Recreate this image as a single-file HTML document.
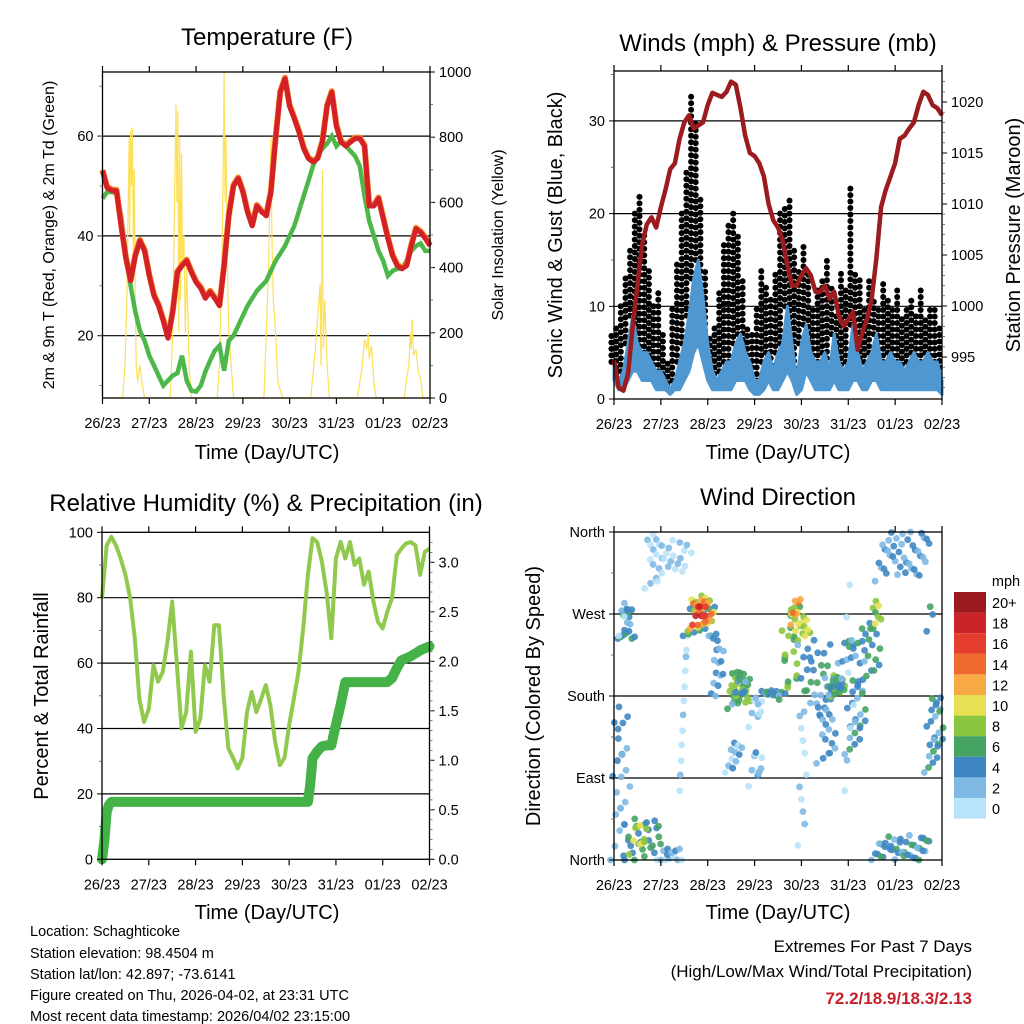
<!DOCTYPE html>
<html><head><meta charset="utf-8"><style>
html,body{margin:0;padding:0;background:#fff;}
svg{display:block;font-family:"Liberation Sans",Arial,sans-serif;}
</style></head><body>
<svg id="s" width="1024" height="1024" viewBox="0 0 1024 1024">
<g id="g"></g>
<text x="267" y="45" font-size="24" text-anchor="middle">Temperature (F)</text>
<text x="778" y="51" font-size="24" text-anchor="middle">Winds (mph) &amp; Pressure (mb)</text>
<text x="266" y="511" font-size="24" text-anchor="middle">Relative Humidity (%) &amp; Precipitation (in)</text>
<text x="778" y="505" font-size="24" text-anchor="middle">Wind Direction</text>
<text transform="translate(54,235) rotate(-90)" font-size="16" text-anchor="middle">2m &amp; 9m T (Red, Orange) &amp; 2m Td (Green)</text>
<text transform="translate(503,235) rotate(-90)" font-size="16" text-anchor="middle">Solar Insolation (Yellow)</text>
<text transform="translate(562,235) rotate(-90)" font-size="20" text-anchor="middle">Sonic Wind &amp; Gust (Blue, Black)</text>
<text transform="translate(1020,235) rotate(-90)" font-size="20" text-anchor="middle">Station Pressure (Maroon)</text>
<text transform="translate(48,696) rotate(-90)" font-size="20" text-anchor="middle">Percent &amp; Total Rainfall</text>
<text transform="translate(540,696) rotate(-90)" font-size="20" text-anchor="middle">Direction (Colored By Speed)</text>
<text x="267" y="459" font-size="20" text-anchor="middle">Time (Day/UTC)</text>
<text x="778" y="459" font-size="20" text-anchor="middle">Time (Day/UTC)</text>
<text x="267" y="919" font-size="20" text-anchor="middle">Time (Day/UTC)</text>
<text x="778" y="919" font-size="20" text-anchor="middle">Time (Day/UTC)</text>
<g font-size="14.5">
<text x="30" y="936">Location: Schaghticoke</text>
<text x="30" y="958">Station elevation: 98.4504 m</text>
<text x="30" y="979">Station lat/lon: 42.897; -73.6141</text>
<text x="30" y="1000">Figure created on Thu, 2026-04-02, at 23:31 UTC</text>
<text x="30" y="1021">Most recent data timestamp: 2026/04/02 23:15:00</text>
</g>
<text x="972" y="952" font-size="17" text-anchor="end">Extremes For Past 7 Days</text>
<text x="972" y="977" font-size="17" text-anchor="end">(High/Low/Max Wind/Total Precipitation)</text>
<text x="972" y="1004" font-size="17" font-weight="bold" fill="#c8202a" text-anchor="end">72.2/18.9/18.3/2.13</text>
</svg>
<script>
const dayLabels=["26/23","27/23","28/23","29/23","30/23","31/23","01/23","02/23"];
const tempT=[53,49.6,49.1,49,42,35.5,31,36,39,37,32,28,26,23,19.5,24.7,32.7,34,35,32.7,30.7,29.5,27.5,28.8,27.5,26,34,44,50,51.5,48.8,44.8,42,46,44.8,44,48.8,59.5,68.8,71.5,66,63.5,60.8,57.5,55.5,54.8,55.5,58.8,66,68.8,62,58.8,58,58.8,59.5,59.5,58,46,46,47.5,43.5,39.5,36,34,33.4,34,38,41.4,40.7,39.5,38];
const dewT=[47.5,48.8,48.8,48.5,44,36,30,24.8,21,19,16,14,12,10,11,12,12.5,16,11,9,8.8,10,12.8,15,17,18,13,19,20,22,24,26,27.5,29,30,31,33,35,36.5,38,40,42,45,48,51,54,56,57.5,58.5,60,58,59,58,57,56,54,48,43,40,37,35,32,33,33.4,33.5,35,37,38,38.5,37,37];
const solarTime=[0,.43,.48,.52,.55,.57,.58,.6,.62,.64,.66,.68,.7,.72,.75,.8,.85,.9,1.45,1.5,1.55,1.57,1.59,1.61,1.63,1.65,1.67,1.69,1.71,1.74,1.77,1.8,1.85,1.9,2.45,2.5,2.55,2.58,2.6,2.62,2.64,2.67,2.7,2.75,2.8,3.45,3.5,3.55,3.6,3.62,3.65,3.7,3.75,3.85,4.45,4.55,4.6,4.65,4.67,4.7,4.72,4.75,4.8,4.85,5.45,5.5,5.55,5.6,5.65,5.68,5.7,5.75,5.8,5.85,6.45,6.5,6.55,6.58,6.6,6.62,6.65,6.7,6.75,6.8,6.85,7];
const solarV=[0,0,100,300,600,800,500,820,650,830,400,700,300,100,50,100,40,0,0,200,700,900,600,880,200,800,300,750,400,500,200,400,100,0,0,100,400,700,1000,600,800,400,200,100,0,0,200,400,800,500,300,200,50,0,0,150,250,350,100,700,150,300,100,0,0,50,100,180,150,200,120,160,50,0,0,60,100,200,150,240,130,150,80,60,0,0];
const windV=[4,2,3,6,9,6,5,5,4,3,3,2,1,2,4,6,9,13,15,11,6,3,2,3,4,4,6,7,5,4,2,2,4,5,3,5,6,10,6,2,6,8,5,4,4,5,3,7,4,3,4,8,5,3,4,5,7,4,4,5,4,4,3,4,5,4,4,5,4,4,2];
const lullV=[2,1,1,2,3,3,2,2,2,1,1,1,0.5,1,1,2,3,5,6,4,2,1,1,1,1,1,2,2,2,1,0.5,0.5,1,2,1,1,2,3,2,0.5,1,3,2,1,1,1,1,2,1,1,1,2,2,1,1,2,2,1,1,1,1,1,1,1,1,1,1,1,1,1,0.5];
const gustV=[7,8,10,13,16,20,22,18,14,10,12,7,4,10,15,20,25,33,30,22,14,7,8,12,17,19,20,18,13,8,7,10,14,12,11,14,20,21,22,16,14,17,14,10,12,13,15,12,9,14,12,23,14,13,10,13,11,10,13,11,10,12,9,10,11,9,12,9,10,10,8];
const presV=[994.7,992,991.7,993.4,998,1002,1006,1008,1008.7,1007.7,1009.7,1011.4,1013.4,1014,1016.4,1018,1018.7,1017.4,1017.7,1018,1019.7,1020.9,1020.7,1020.5,1021,1022,1021.7,1019.4,1016.7,1015,1014.7,1014,1012.7,1010,1008.4,1007.7,1006.4,1004,1002,1002,1003,1003.7,1003,1001.4,1001.4,1002,1000.7,1001.4,999,998,998.7,999.4,995.7,997.4,998.7,1000.7,1004.7,1009.7,1011.4,1012.7,1014,1016.4,1016.7,1017.4,1018,1019.7,1021,1020.7,1019.7,1019.4,1018.7];
const rhV=[80,96,98.6,96,92,87,80,67.6,49,42,46,59.4,54.3,57.4,66.6,78.8,59.4,40,45,63.5,39,43,59.4,54.3,71.6,71.6,50.3,34,31,27.8,31,45,51.2,45,49,53.3,47,36,28.8,31,41,49,57.4,70.6,87,98.2,97,91,81.8,67.6,92,97,92,97,90,92,84,88,78.8,72.6,70.6,75.8,80,93,95,96.6,97,96,87,94,95];
const precipTime=[0,.05,.1,.15,.2,4.4,4.45,4.5,4.6,4.7,4.8,4.9,5.0,5.1,5.2,6.1,6.2,6.3,6.4,6.5,6.6,6.7,6.8,6.9,7];
const precipV=[0,.18,.48,.55,.58,.58,.75,1.02,1.09,1.14,1.15,1.15,1.36,1.56,1.79,1.79,1.83,1.93,2.01,2.03,2.05,2.08,2.11,2.13,2.15];
// direction clusters (start/end day, start/end degrees, speed mph, point count)
const dirT0=[0.0,0.16,0.18,0.73,1.0,0.3,0.4,1.0,1.48,1.55,1.65,1.7,1.75,2.1,2.5,2.6,2.45,2.95,2.95,3.15,3.6,3.8,3.85,4.0,4.0,4.0,4.6,4.65,4.4,4.86,5.0,5.3,5.55,5.0,5.65,5.57,6.7,6.75];
const dirT1=[0.3,0.38,0.3,1.0,1.6,1.0,0.7,1.4,1.5,2.15,2.1,2.05,1.95,2.3,2.87,2.8,2.7,3.15,3.15,3.6,3.95,3.95,3.9,4.15,4.6,4.05,4.9,4.85,4.7,5.3,5.35,5.65,5.65,5.05,6.7,6.7,7.0,6.8];
const dirD0=[2,247,250,302,310,0,10,0,80,250,255,258,262,250,170,175,100,150,85,175,180,250,262,245,240,20,180,185,110,220,120,200,258,80,310,0,100,255];
const dirD1=[166,291,280,357,355,45,40,15,250,294,290,285,280,180,206,200,130,180,120,190,280,275,290,265,160,160,200,200,165,250,200,260,282,300,360,25,180,280];
const dirSpd=[3,5,2,1,1,5,9,2,0,5,9,13,17,3,7,4,2,1,2,4,7,9,13,9,4,1,6,4,3,4,4,5,8,0,3,4,4,5];
const dirN=[26,14,8,16,18,24,10,14,12,14,16,16,10,16,30,10,12,10,10,18,20,8,6,8,30,10,24,10,16,14,24,16,8,8,40,40,24,3];
const legendLabels=["20+","18","16","14","12","10","8","6","4","2","0"];
const legendColors=["#9b1a1e","#cc2229","#e53e2e","#f06a2f","#f7a945","#e7e052","#8cc540","#45a463","#3f87c4","#7fb9e4","#b9e3f8"];

const NS="http://www.w3.org/2000/svg";
const G=document.getElementById('g');
function el(tag,attrs,parent){const e=document.createElementNS(NS,tag);for(const k in attrs)e.setAttribute(k,attrs[k]);(parent||G).appendChild(e);return e;}
function txt(x,y,s,size,anchor,parent){const e=el('text',{x:x,y:y,'font-size':size,'text-anchor':anchor},parent);e.textContent=s;return e;}
function pts(xs,ys){return xs.map((x,i)=>x.toFixed(1)+','+ys[i].toFixed(1)).join(' ');}
const tIdx=tempT.map((_,i)=>i*0.1);

function panel(name,L,R,T,B){
  const g=el('g',{});
  
  
  return {g,L,R,T,B,x:d=>L+(R-L)*d/7};
}
function frame(p,name){
  const r=el('rect',{x:p.L,y:p.T,width:p.R-p.L,height:p.B-p.T,fill:'none',stroke:'#000','stroke-width':1.3},p.g);
  
  
  const ax=el('g',{},p.g);
  
  
  for(let d=0;d<=7;d++){
    const x=p.x(d);
    el('line',{x1:x,x2:x,y1:p.B,y2:p.B+6,stroke:'#000','stroke-width':1.2},ax);
    el('line',{x1:x,x2:x,y1:p.T,y2:p.T-6,stroke:'#000','stroke-width':1.2},ax);
    txt(x,p.B+30,dayLabels[d],14.5,'middle',ax);
  }
}
function hgrid(p,y){el('line',{x1:p.L,x2:p.R,y1:y,y2:y,stroke:'#000','stroke-width':1.2},p.g);}
function leftTicks(p,vals,fy,fmt,name,side){
  const ax=el('g',{},p.g);
  
  
  vals.forEach(v=>{const y=fy(v);
    if(side==='L'){el('line',{x1:p.L-5,x2:p.L,y1:y,y2:y,stroke:'#000'},ax);txt(p.L-9,y+5,fmt(v),14.5,'end',ax);}
    else{el('line',{x1:p.R,x2:p.R+5,y1:y,y2:y,stroke:'#000'},ax);txt(p.R+9,y+5,fmt(v),14.5,'start',ax);}
  });
}
function minor(p,ys,side){ys.forEach(y=>{if(side==='L')el('line',{x1:p.L-3,x2:p.L,y1:y,y2:y,stroke:'#555','stroke-width':.8},p.g);else el('line',{x1:p.R,x2:p.R+3,y1:y,y2:y,stroke:'#555','stroke-width':.8},p.g);});}

// ---------- Temperature ----------
const P1=panel('temperature-panel',102.5,430,72,398);
const ty=v=>335.7-(v-20)*4.99;
const sy=v=>398-v*0.326;
[20,40,60].forEach(v=>hgrid(P1,ty(v)));
{const e=el('polyline',{points:pts(solarTime.map(P1.x),solarV.map(sy)),fill:'none',stroke:'#fde05a','stroke-width':1.2},P1.g);

}
{const e=el('polyline',{points:pts(tIdx.map(P1.x),dewT.map(ty)),fill:'none',stroke:'#4db849','stroke-width':4.5},P1.g);

}
{const e=el('polyline',{points:pts(tIdx.map(P1.x),tempT.map(v=>ty(v)-1)),fill:'none',stroke:'#f58220','stroke-width':6,'stroke-linejoin':'round'},P1.g);

}
{const e=el('polyline',{points:pts(tIdx.map(P1.x),tempT.map(ty)),fill:'none',stroke:'#d42027','stroke-width':5,'stroke-linejoin':'round'},P1.g);

}
frame(P1,'temperature');
leftTicks(P1,[20,40,60],ty,v=>String(v),'temperature-y-axis','L');
leftTicks(P1,[0,200,400,600,800,1000],sy,v=>String(v),'solar-y-axis','R');
{const a=[],b=[];for(let v=10;v<=70;v+=10)a.push(ty(v));for(let v=100;v<=900;v+=100)b.push(sy(v));minor(P1,a,'L');minor(P1,b,'R');}

// ---------- Winds ----------
const P2=panel('wind-panel',614,942,71,399);
const wy=v=>399-v*9.27;
const py=v=>306-(v-1000)*10.2;
[10,20,30].forEach(v=>hgrid(P2,wy(v)));
gustV.forEach((g,i)=>{
  const x=P2.x(tIdx[i]);
  let k=0;
  for(let v=windV[i];v<=g;v+=0.7){
    const c=el('circle',{cx:(x+((k*5)%5-2)*1.3).toFixed(1),cy:wy(v).toFixed(1),r:3,fill:'#000'},P2.g);
    
    
    k++;
  }
});
{const xs=tIdx.map(P2.x);
const up=xs.map((x,i)=>x.toFixed(1)+','+wy(windV[i]).toFixed(1));
const dn=xs.map((x,i)=>x.toFixed(1)+','+wy(lullV[i]).toFixed(1)).reverse();
const e=el('polygon',{points:up.concat(dn).join(' '),fill:'#4f97d1',stroke:'#4f97d1','stroke-width':3,'stroke-linejoin':'round'},P2.g);

}
{const e=el('polyline',{points:pts(tIdx.map(P2.x),presV.map(py)),fill:'none',stroke:'#9b1b1e','stroke-width':4.5,'stroke-linejoin':'round'},P2.g);

}
frame(P2,'wind');
leftTicks(P2,[0,10,20,30],wy,v=>String(v),'wind-y-axis','L');
leftTicks(P2,[995,1000,1005,1010,1015,1020],py,v=>String(v),'pressure-y-axis','R');
{const a=[],b=[];for(let v=5;v<=35;v+=10)a.push(wy(v));for(let v=992;v<=1022;v++)if(v%5)b.push(py(v));minor(P2,a,'L');minor(P2,b,'R');}

// ---------- RH ----------
const P3=panel('humidity-panel',102,429.5,532.3,859.3);
const ry=v=>859.3-v*3.27;
const qy=v=>859.3-v*99;
[20,40,60,80].forEach(v=>hgrid(P3,ry(v)));
{const e=el('polyline',{points:pts(tIdx.map(P3.x),rhV.map(ry)),fill:'none',stroke:'#90c94e','stroke-width':4,'stroke-linejoin':'round'},P3.g);

}
{const e=el('polyline',{points:pts(precipTime.map(P3.x),precipV.map(qy)),fill:'none',stroke:'#45b248','stroke-width':10,'stroke-linejoin':'round','stroke-linecap':'round'},P3.g);

}
frame(P3,'humidity');
leftTicks(P3,[0,20,40,60,80,100],ry,v=>String(v),'humidity-y-axis','L');
leftTicks(P3,[0,.5,1,1.5,2,2.5,3],qy,v=>v.toFixed(1),'precip-y-axis','R');
{const a=[],b=[];for(let v=10;v<=90;v+=20)a.push(ry(v));for(let v=0.1;v<3.25;v+=0.1)b.push(qy(v));minor(P3,a,'L');minor(P3,b,'R');}

// ---------- Direction ----------
const P4=panel('direction-panel',614,942,532,860);
const dy=v=>860-v*328/360;
function spdColor(s){const i=Math.max(0,Math.min(10,Math.floor(s/2)));return legendColors[10-i];}
[90,180,270].forEach(v=>hgrid(P4,dy(v)));
dirN.forEach((n,k)=>{
  for(let i=0;i<n;i++){
    const f=n>1?i/(n-1):0;
    const t=dirT0[k]+(dirT1[k]-dirT0[k])*f;
    const span=Math.abs(dirD1[k]-dirD0[k]);
    const d=dirD0[k]+(dirD1[k]-dirD0[k])*((i*7)%n)/Math.max(1,n-1)+((i*3)%5-2)*2;
    const xo=((i*11)%7-3)*1.2;
    const c=el('circle',{cx:(P4.x(t)+xo).toFixed(1),cy:dy(Math.max(0,Math.min(360,d))).toFixed(1),r:3.4,fill:spdColor(dirSpd[k]+((i%4)-1)),'fill-opacity':.9},P4.g);
    
    
  }
});
frame(P4,'direction');
leftTicks(P4,[0,90,180,270,360],dy,v=>["North","East","South","West","North"][v/90],'direction-y-axis','L');
{const a=[];for(let v=45;v<360;v+=90)a.push(dy(v));minor(P4,a,'L');}
// legend
{const lg=el('g',{});


txt(1006,586,'mph',14.5,'middle',lg);
legendColors.forEach((c,i)=>{
  const r=el('rect',{x:954,y:(592+i*20.6).toFixed(1),width:32,height:20.6,fill:c},lg);
  
  
  txt(992,(592+i*20.6+16).toFixed(1),legendLabels[i],14.5,'start',lg);
});}
</script>
</body></html>
